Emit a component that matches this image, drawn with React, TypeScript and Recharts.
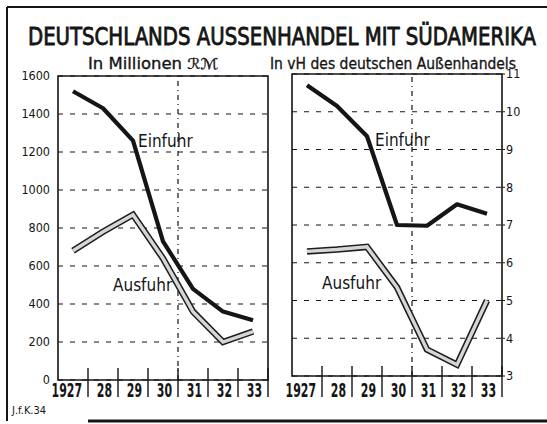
import { LineChart, Line, XAxis, YAxis, CartesianGrid, ReferenceLine, ReferenceArea } from "recharts";

// Deutschlands Außenhandel mit Südamerika, 1927–1933
const years = [1927, 1928, 1929, 1930, 1931, 1932, 1933];
const yearLabels = ["1927", "28", "29", "30", "31", "32", "33"];
const importsRM = [1520, 1430, 1260, 730, 480, 360, 315];
const exportsRM = [680, 780, 870, 640, 360, 200, 255];
const importsShare = [10.7, 10.15, 9.35, 7.0, 6.98, 7.55, 7.3];
const exportsShare = [6.3, 6.35, 6.42, 5.35, 3.7, 3.3, 5.0];
const rmTicks = [0, 200, 400, 600, 800, 1000, 1200, 1400, 1600];
const shareTicks = [3, 4, 5, 6, 7, 8, 9, 10, 11];

const rmData = years.map((year, i) => ({ year, ein: importsRM[i], aus: exportsRM[i] }));
const shareData = years.map((year, i) => ({ year, ein: importsShare[i], aus: exportsShare[i] }));

const xDomain = [years[0] - 0.5, years[years.length - 1] + 0.5];
const xTicks = years.flatMap((y) => [y, y + 0.5]);

const INK = "#151515";
const COND = "'DejaVu Sans Condensed', 'DejaVu Sans', sans-serif";

function YearTick(props: any) {
  const { x, y, payload, labelDy, sepUp, sepDown } = props;
  const v = payload.value;
  if (Number.isInteger(v)) {
    const label = yearLabels[years.indexOf(v)];
    return (
      <g transform={`translate(${x + 9},${y + labelDy}) scale(0.76,1.2)`}>
        <text x={0} y={0} textAnchor="end" fontFamily={COND} fontWeight="bold" fontSize={16} fill={INK}>
          {label}
        </text>
      </g>
    );
  }
  return <line x1={x} x2={x} y1={y - sepUp} y2={y + sepDown} stroke={INK} strokeWidth={1.4} />;
}

function Panel({ yDomain, yTicks, side, labelDy, sepUp, sepDown }: any) {
  return (
    <>
      <CartesianGrid horizontal vertical={false} stroke={INK} strokeDasharray="5 7" strokeWidth={1.2} />
      <XAxis
        dataKey="year"
        type="number"
        domain={xDomain}
        ticks={xTicks}
        interval={0}
        axisLine={false}
        tickLine={false}
        tickSize={0}
        tickMargin={0}
        height={30}
        tick={(p: any) => <YearTick {...p} labelDy={labelDy} sepUp={sepUp} sepDown={sepDown} />}
      />
      <YAxis
        orientation={side}
        domain={yDomain}
        ticks={yTicks}
        interval={0}
        axisLine={false}
        tickLine={side === "right" ? { stroke: INK } : false}
        tickSize={side === "right" ? 3 : 6}
        tickMargin={side === "right" ? 1 : 2}
        width={40}
        tick={{ fontSize: 12.5, fontFamily: COND, fill: INK }}
      />
      <ReferenceLine x={1930.5} stroke={INK} strokeWidth={1.2} strokeDasharray="5 4 1 4" />
      <ReferenceArea x1={xDomain[0]} x2={xDomain[1]} y1={yDomain[0]} y2={yDomain[1]} fill="none" stroke={INK} strokeWidth={1.6} />
      <Line dataKey="aus" type="linear" stroke="#1e1e1e" strokeWidth={6.5} dot={false} isAnimationActive={false} strokeLinejoin="miter" />
      <Line dataKey="aus" type="linear" stroke="#d6d6d6" strokeWidth={3.4} dot={false} isAnimationActive={false} strokeLinejoin="miter" />
      <Line dataKey="ein" type="linear" stroke={INK} strokeWidth={4.2} dot={false} isAnimationActive={false} strokeLinejoin="round" />
    </>
  );
}

export default function App() {
  return (
    <div style={{ position: "absolute", left: 0, top: 0, width: 547, height: 424, background: "#fff", overflow: "hidden" }}>
      <div style={{ position: "absolute", left: 0, top: 0 }}>
        <LineChart width={280} height={424} data={rmData} margin={{ top: 76, right: 12, bottom: 14, left: 18 }}>
          {Panel({ yDomain: [0, 1600], yTicks: rmTicks, side: "left", labelDy: 17, sepUp: 12, sepDown: 17 })}
        </LineChart>
      </div>
      <div style={{ position: "absolute", left: 270, top: 0 }}>
        <LineChart width={277} height={424} data={shareData} margin={{ top: 74, right: 5, bottom: 18, left: 22 }}>
          {Panel({ yDomain: [3, 11], yTicks: shareTicks, side: "right", labelDy: 21, sepUp: 10, sepDown: 21 })}
        </LineChart>
      </div>
      <svg width={547} height={424} style={{ position: "absolute", left: 0, top: 0, pointerEvents: "none" }}>
        <line x1={7} y1={7} x2={547} y2={7} stroke={INK} strokeWidth={2} />
        <line x1={7} y1={7} x2={7} y2={421} stroke={INK} strokeWidth={2} />
        <line x1={88} y1={421} x2={547} y2={421} stroke={INK} strokeWidth={3} />
        <g transform="translate(28,45) scale(1,1.18)">
          <text
            x={0}
            y={0}
            textLength={508}
            lengthAdjust="spacingAndGlyphs"
            fontFamily={COND}
            fontSize={21}
            fill={INK}
            stroke={INK}
            strokeWidth={0.7}
          >
            DEUTSCHLANDS AUSSENHANDEL MIT SÜDAMERIKA
          </text>
        </g>
        <text x={88} y={69} textLength={130} lengthAdjust="spacingAndGlyphs" fontFamily={COND} fontSize={15} fill={INK} stroke={INK} strokeWidth={0.3}>
          In Millionen ℛℳ
        </text>
        <text x={270} y={69} textLength={246} lengthAdjust="spacingAndGlyphs" fontFamily={COND} fontSize={15} fill={INK} stroke={INK} strokeWidth={0.3}>
          In vH des deutschen Außenhandels
        </text>
        <text x={138} y={147} fontFamily={COND} fontSize={17} fill={INK}>Einfuhr</text>
        <text x={375} y={146} fontFamily={COND} fontSize={17} fill={INK}>Einfuhr</text>
        <text x={113} y={291} fontFamily={COND} fontSize={17} fill={INK}>Ausfuhr</text>
        <text x={322} y={289} fontFamily={COND} fontSize={17} fill={INK}>Ausfuhr</text>
        <text x={12} y={414} fontFamily={COND} fontSize={11} fill={INK}>J.f.K.34</text>
      </svg>
    </div>
  );
}
